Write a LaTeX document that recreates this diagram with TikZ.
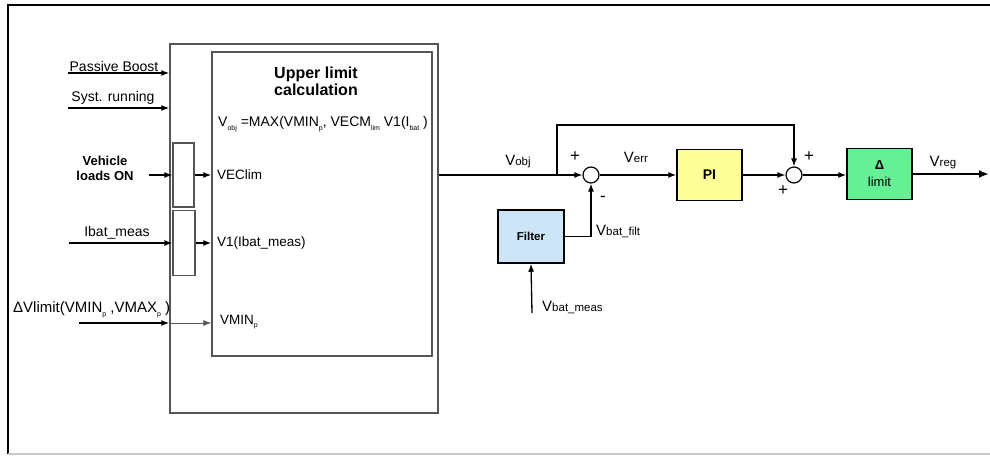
\documentclass[tikz,border=0pt]{standalone}
\usepackage{fontspec}
\setmainfont{Liberation Sans}
\usetikzlibrary{arrows.meta,calc}
\definecolor{boxgray}{RGB}{85,85,85}
\definecolor{piyellow}{RGB}{255,255,153}
\definecolor{filtblue}{RGB}{204,230,248}
\definecolor{limgreen}{RGB}{102,240,150}
\definecolor{framegray}{RGB}{200,200,200}
% small lowered subscript in text
\newcommand{\sbs}[1]{\raisebox{-0.45ex}{\fontsize{7}{7}\selectfont #1}}
% signal name: large V followed by a smaller tail
\newcommand{\sig}[1]{{\fontsize{15}{16}\selectfont V}{\fontsize{11.5}{12}\selectfont #1}}
\tikzset{
  sysbox/.style={draw=boxgray, line width=1.5pt, minimum width=#1},
  smallbox/.style={draw=boxgray, line width=1.2pt, inner sep=0pt},
  blk/.style={draw=black, line width=1.5pt, inner sep=0pt, align=center},
  sumnode/.style={draw=black, line width=1.2pt, circle, minimum size=16pt, inner sep=0pt},
  conn/.style={draw=black, line width=1.3pt},
  arr/.style={conn, -{Latex[length=8pt,width=6pt]}},
  thinarr/.style={draw=boxgray, line width=0.8pt, -{Latex[length=8pt,width=6pt]}},
  lbl/.style={inner sep=0pt, font=\fontsize{14}{16}\selectfont},
  signlbl/.style={inner sep=0pt, font=\fontsize{17}{18}\selectfont},
  inlbl/.style={inner sep=0pt, anchor=west, font=\fontsize{13.5}{16}\selectfont},
}
\begin{document}
\begin{tikzpicture}[x=1pt,y=-1pt]
\useasboundingbox (0,0) rectangle (990,455);
% outer frame
\draw[line width=1.2pt] (990,5) -- (8,5) -- (8,454);
\draw[framegray, line width=1.2pt] (8,454) -- (990,454);

% system block, inner calculation block and input selectors
\node[sysbox=268pt, minimum height=369pt, inner sep=0pt] (sys) at (304,228.5) {};
\node[sysbox=220pt, minimum height=304pt, inner sep=0pt] (calc) at (322,204) {};
\node[smallbox, minimum width=21pt, minimum height=64pt] (sb1) at (183.5,175) {};
\node[smallbox, minimum width=22pt, minimum height=65pt] (sb2) at (184,243) {};

% texts inside the calculation block
\node[inner sep=0pt, align=center, font=\bfseries\fontsize{16}{17}\selectfont] (title) at (316,81) {Upper limit\\calculation};
\node[inlbl, font=\fontsize{14}{16}\selectfont] (formula) at (218,124) {V\sbs{obj} =MAX(VMIN\sbs{p}, VECM\sbs{lim} V1(I\sbs{bat} )};
\node[inlbl] (veclim) at (217,175) {VEClim};
\node[inlbl] (v1) at (217,243) {V1(Ibat\_meas)};
\node[inlbl] (vminp) at (220,322) {VMIN\sbs{p}};

% inputs
\node[lbl] (pb) at (114,66) {Passive Boost};
\coordinate (pbS) at (68,73);
\draw[arr] (pbS) -- (pbS -| sys.west);

\node[lbl] (sr) at (113,98) {Syst. running};
\coordinate (srS) at (68,108);
\draw[arr] (srS) -- (srS -| sys.west);

\node[lbl, align=center, font=\bfseries\fontsize{13}{15}\selectfont] (vl) at (105,168) {Vehicle\\loads ON};
\coordinate (vlS) at (149,175);
\draw[arr] (vlS) -- (vlS -| sb1.west);
\draw[arr] (sb1.east) -- (sb1.east -| calc.west);

\node[lbl] (ib) at (117,233) {Ibat\_meas};
\coordinate (ibS) at (69,243);
\draw[arr] (ibS) -- (ibS -| sb2.west);
\draw[arr] (sb2.east) -- (sb2.east -| calc.west);

\node[lbl, anchor=west, font=\fontsize{15}{16}\selectfont] (dv) at (13,310) {ΔVlimit(VMIN\sbs{p} ,VMAX\sbs{p} )};
\coordinate (dvS) at (79,323);
\coordinate (dvM) at (dvS -| sys.west);
\draw[arr] (dvS) -- (dvM);
\draw[thinarr] (dvM) -- (dvM -| calc.west);

% regulation loop
\node[sumnode] (s1) at (591,175) {};
\node[sumnode] (s2) at (794,175) {};
\node[blk, fill=piyellow, minimum width=65pt, minimum height=51pt, font=\bfseries\fontsize{14}{16}\selectfont] (pi) at (709.5,175) {PI};
\node[blk, fill=filtblue, minimum width=66pt, minimum height=53pt, font=\bfseries\fontsize{11.5}{13}\selectfont] (filt) at (531,236.5) {Filter};
\node[blk, fill=limgreen, minimum width=65pt, minimum height=51pt, font=\fontsize{13}{17}\selectfont] (lim) at (879.5,174) {\textbf{Δ}\\limit};

\coordinate (br) at (557,175);
\coordinate (fb) at (794,125);
\coordinate (vbm) at (532,313);
\coordinate (out) at (989,174);

\draw[conn] (sys.east |- s1) -- (br);
\draw[arr] (br) -- (s1.west);
\draw[arr] (br) |- (fb) -- (s2.north);
\draw[arr] (s1.east) -- (pi.west);
\draw[arr] (filt.east) -| (s1.south);
\draw[arr] (vbm) -- (filt.south);
\draw[arr] (pi.east) -- (s2.west);
\draw[arr] (s2.east) -- (s2.east -| lim.west);
\draw[draw=black, line width=2.6pt, -{Latex[length=10pt,width=8pt]}] (lim.east) -- (out);

% loop labels
\node[inner sep=0pt] (lobj) at (518,162) {\sig{obj}};
\node[signlbl] (p1) at (575,157) {+};
\node[inner sep=0pt] (lerr) at (636,157) {\sig{err}};
\node[signlbl] (m1) at (603,199) {-};
\node[inner sep=0pt, anchor=west] (lfilt) at (596,231) {\sig{bat\_filt}};
\node[inner sep=0pt, anchor=west] (lmeas) at (542,307) {\sig{bat\_meas}};
\node[signlbl] (p2) at (809,157) {+};
\node[signlbl] (p3) at (783,191) {+};
\node[inner sep=0pt] (lreg) at (943,163) {\sig{reg}};
\end{tikzpicture}
\end{document}
